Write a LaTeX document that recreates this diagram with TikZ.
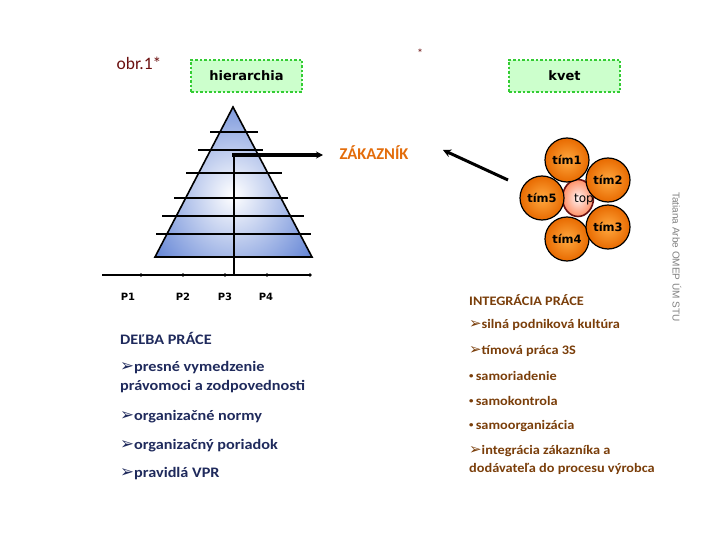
\documentclass[tikz,border=0pt]{standalone}
\usepackage{fontspec}
\setmainfont{Carlito}
\newfontfamily\verd{DejaVu Sans}
\newfontfamily\arl{Liberation Sans}
\newfontfamily\widecal[FakeStretch=1.12]{Carlito}
\newfontfamily\widecalr[FakeStretch=1.1]{Carlito}
\usetikzlibrary{arrows.meta,shapes.geometric}
\definecolor{navy}{HTML}{1F2A5C}
\definecolor{brownt}{HTML}{7A3E0A}
\definecolor{darkred}{HTML}{6B1010}
\definecolor{zorange}{HTML}{E36C0A}
\definecolor{boxfill}{HTML}{CCFFCC}
\definecolor{boxline}{HTML}{33CC33}
\definecolor{pyrblue}{HTML}{6586D6}
\definecolor{orin}{HTML}{FFA940}
\definecolor{orout}{HTML}{E86A00}
\tikzset{
  greenbox/.style={draw=boxline,line width=2.5pt,dotted,fill=boxfill,minimum width=111pt,minimum height=32pt,font=\verd\bfseries\fontsize{13}{15}\selectfont},
  pline/.style={line width=1.6pt},
  plabel/.style={font=\verd\bfseries\fontsize{10}{12}\selectfont},
  petal/.style={circle,draw=black,line width=1.2pt,inner color=orin,outer color=orout,minimum size=44pt,inner sep=0pt,font=\verd\bfseries\fontsize{11.5}{13}\selectfont},
  lefttxt/.style={anchor=west,text=navy,font=\widecal\bfseries\fontsize{14.5}{17}\selectfont,inner sep=0pt},
  righttxt/.style={anchor=west,text=brownt,font=\widecalr\bfseries\fontsize{13}{15}\selectfont,inner sep=0pt},
}
\newcommand{\arr}{{\verd\fontsize{1.15em}{1em}\selectfont\char"27A2}}
\newcommand{\smallbul}{\raisebox{2.2pt}{\fontsize{8}{8}\selectfont\char"2022}\,}
\begin{document}
\begin{tikzpicture}[x=1pt,y=-1pt]
\useasboundingbox (0,0) rectangle (720,540);
% titles
\node[text=darkred,font=\fontsize{17.5}{20}\selectfont] (obr) at (139,63) {obr.1*};
\node[text=darkred,font=\fontsize{12}{14}\selectfont] (star) at (420,53) {*};
\node[greenbox] (hier) at (246.5,76) {hierarchia};
\node[greenbox] (kvet) at (564.5,76) {kvet};
% pyramid
\coordinate (apex) at (233,107);
\coordinate (bl) at (155,257);
\coordinate (br) at (312,257);
\begin{scope}
\clip (apex) -- (bl) -- (br) -- cycle;
\fill[inner color=white,outer color=pyrblue] (233,195) ellipse (95 and 105);
\end{scope}
\draw[pline,line join=miter] (apex) -- (bl) -- (br) -- cycle;
\foreach \yy/\xa/\xb in {132/210/258,150/198/263,173/186/282,198/174/288,216/162/304,234/156/311}
  \draw[pline] (\xa,\yy) -- (\xb,\yy);
% axis
\coordinate (ax0) at (102,275);
\coordinate (ax1) at (310,275);
\draw[line width=1.6pt] (ax0) -- (ax1);
\foreach \xx in {141,183,225,267,310}
  \fill (\xx,275) circle (1.8);
\node[plabel] (p1) at (128,297) {P1};
\node[plabel] (p2) at (183,297) {P2};
\node[plabel] (p3) at (225,297) {P3};
\node[plabel] (p4) at (266,297) {P4};
% connector from axis to customer
\coordinate (vbot) at (234,275);
\coordinate (vtop) at (234,155);
\node[text=zorange,font=\bfseries\fontsize{16.5}{19}\selectfont] (zak) at (374,153) {ZÁKAZNÍK};
\draw[line width=1.4pt] (vbot) -- (vtop);
\draw[line width=3.5pt,-{Stealth[length=7pt,width=7pt]}] (232.3,155) -- (323,155);
% flower
\coordinate (farr) at (508,180);
\draw[line width=3pt,-{Stealth[length=8pt,width=8pt]}] (farr) -- (443,150);
\node[ellipse,draw=darkred,line width=1.6pt,inner color=white!80!pink,outer color=red!45!orange!60,minimum width=31pt,minimum height=37pt,inner sep=0pt] (top) at (578,198) {};
\node[font=\verd\fontsize{12}{14}\selectfont] (toptxt) at (584,200) {top};
\node[petal] (t1) at (567,160) {tím1};
\node[petal] (t2) at (608,180) {tím2};
\node[petal] (t5) at (542,198) {tím5};
\node[petal] (t4) at (567,239) {tím4};
\node[petal] (t3) at (608,227) {tím3};
% left text
\node[lefttxt] (l0) at (120,338) {DEĽBA PRÁCE};
\node[lefttxt] (l1) at (120,368) {\arr presné vymedzenie};
\node[lefttxt] (l2) at (120,387) {právomoci a zodpovednosti};
\node[lefttxt] (l3) at (120,417) {\arr organizačné normy};
\node[lefttxt] (l4) at (120,446) {\arr organizačný poriadok};
\node[lefttxt] (l5) at (120,474) {\arr pravidlá VPR};
% right text
\node[righttxt] (r0) at (469,300) {INTEGRÁCIA PRÁCE};
\node[righttxt] (r1) at (469,325) {\arr silná podniková kultúra};
\node[righttxt] (r2) at (469,351) {\arr tímová práca 3S};
\node[righttxt] (r3) at (469,376) {\smallbul samoriadenie};
\node[righttxt] (r4) at (469,401) {\smallbul samokontrola};
\node[righttxt] (r5) at (469,426) {\smallbul samoorganizácia};
\node[righttxt] (r6) at (469,451) {\arr integrácia zákazníka a};
\node[righttxt] (r7) at (469,469) {dodávateľa do procesu výrobca};
% vertical credit
\node[rotate=-90,text=gray,font=\arl\fontsize{10}{12}\selectfont] (cred) at (677,257) {Tatiana Arbe OMEP ÚM STU};
\end{tikzpicture}
\end{document}
